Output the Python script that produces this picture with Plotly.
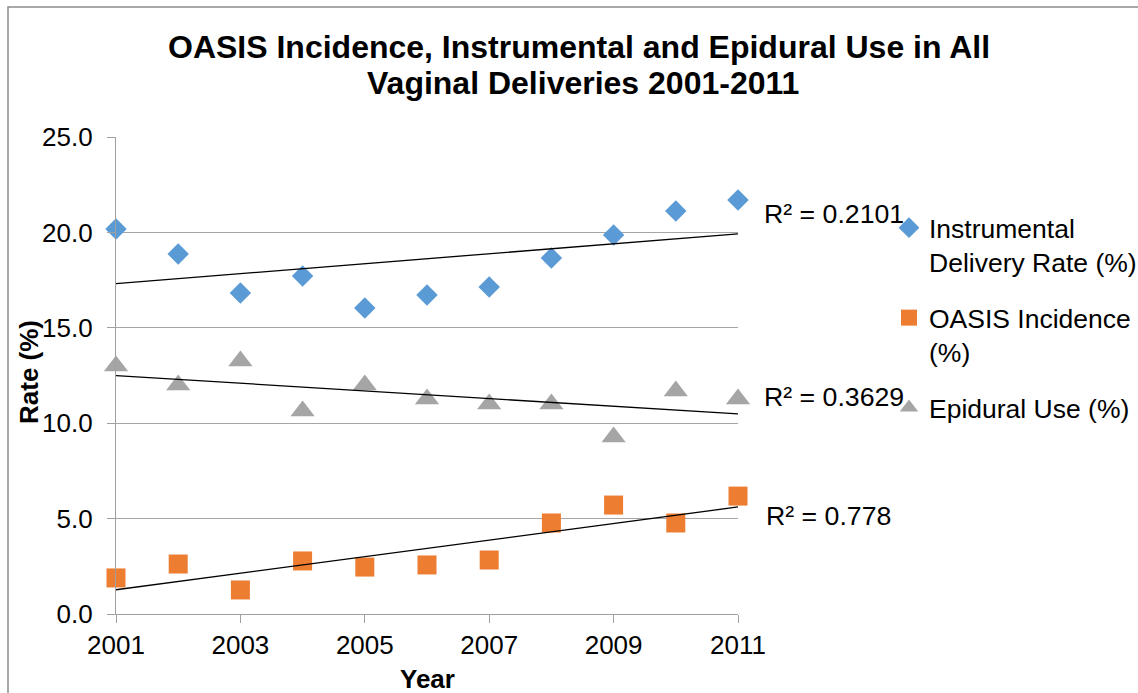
import numpy as np
import plotly.graph_objects as go

years = [2001, 2002, 2003, 2004, 2005, 2006, 2007, 2008, 2009, 2010, 2011]
instrumental = [20.18, 18.87, 16.82, 17.71, 16.04, 16.72, 17.14, 18.66, 19.86, 21.12, 21.70]
oasis = [1.89, 2.62, 1.26, 2.78, 2.46, 2.57, 2.83, 4.77, 5.71, 4.77, 6.18]
epidural = [13.00, 12.00, 13.26, 10.64, 12.00, 11.27, 11.00, 11.00, 9.28, 11.69, 11.27]
r2_labels = ["R² = 0.2101", "R² = 0.3629", "R² = 0.778"]
y_ticks = [0, 5, 10, 15, 20, 25]
x_ticks = [2001, 2003, 2005, 2007, 2009, 2011]

W, H = 1138, 693
L, R, T, B = 116, 738, 137, 614
FONT = "Liberation Sans, Arial, sans-serif"

def px_x(p):
    return (p - L) / (R - L)

def px_y(p):
    return (B - p) / (B - T)

fig = go.Figure()

series = [
    ("Instrumental<br>Delivery Rate (%)", instrumental, "#5B9BD5", "diamond", 16.5),
    ("OASIS Incidence<br>(%)", oasis, "#ED7D31", "square", 19),
    ("Epidural Use (%)", epidural, "#A5A5A5", "triangle-up", 21),
]
for i, (name, vals, col, sym, sz) in enumerate(series):
    fig.add_trace(go.Scatter(
        x=years, y=vals, mode="markers", name=name, legendgroup=f"g{i}",
        marker=dict(symbol=sym, size=sz, color=col, line=dict(width=0)),
        cliponaxis=False,
    ))

# linear trendlines (least squares fit of the data)
xa = np.array(years, dtype=float)
for vals in [instrumental, oasis, epidural]:
    m, c = np.polyfit(xa, np.array(vals), 1)
    xs = [years[0], years[-1]]
    fig.add_trace(go.Scatter(
        x=xs, y=[m * v + c for v in xs], mode="lines", showlegend=False,
        line=dict(color="black", width=1.3), hoverinfo="skip",
    ))

annotations = []
annotations.append(dict(text="<b>OASIS Incidence, Instrumental and Epidural Use in All</b>",
                        xref="paper", yref="paper", x=px_x(579), y=px_y(47),
                        xanchor="center", yanchor="middle", showarrow=False,
                        font=dict(family=FONT, size=32, color="black")))
annotations.append(dict(text="<b>Vaginal Deliveries 2001-2011</b>",
                        xref="paper", yref="paper", x=px_x(583), y=px_y(83),
                        xanchor="center", yanchor="middle", showarrow=False,
                        font=dict(family=FONT, size=32, color="black")))
annotations.append(dict(text="<b>Rate (%)</b>", xref="paper", yref="paper",
                        x=px_x(29), y=px_y(372), textangle=-90,
                        xanchor="center", yanchor="middle", showarrow=False,
                        font=dict(family=FONT, size=26, color="black")))
annotations.append(dict(text="<b>Year</b>", xref="paper", yref="paper",
                        x=px_x(427), y=px_y(679),
                        xanchor="center", yanchor="middle", showarrow=False,
                        font=dict(family=FONT, size=26, color="black")))
for lab, (xp, yp) in zip(r2_labels, [(762, 214), (762, 397), (764, 516)]):
    annotations.append(dict(text=lab, xref="paper", yref="paper",
                            x=px_x(xp), y=px_y(yp), xanchor="left", yanchor="middle",
                            showarrow=False, font=dict(family=FONT, size=26.7, color="black")))

fig.update_layout(
    width=W, height=H,
    margin=dict(l=L, r=W - R, t=T, b=H - B, autoexpand=False),
    paper_bgcolor="white", plot_bgcolor="white",
    font=dict(family=FONT, size=26, color="black"),
    showlegend=True,
    legend=dict(x=px_x(889), y=px_y(204), xanchor="left", yanchor="top",
                font=dict(family=FONT, size=26.5, color="black"),
                valign="top", tracegroupgap=18, bgcolor="rgba(0,0,0,0)"),
    annotations=annotations,
    shapes=[dict(type="rect", xref="paper", yref="paper",
                 x0=px_x(8), x1=px_x(1150), y0=px_y(7), y1=px_y(705),
                 line=dict(color="#8C8C8C", width=1.5), layer="below")],
)
fig.update_xaxes(range=[2001, 2011], tickvals=x_ticks, ticktext=[str(v) for v in x_ticks],
                 showgrid=False, zeroline=False, showline=True, linecolor="#A0A0A0",
                 linewidth=1.3, ticks="outside", ticklen=8, tickcolor="#A0A0A0",
                 tickfont=dict(family=FONT, size=26, color="black"))
fig.update_yaxes(range=[0, 25], tickvals=y_ticks, ticktext=[f"{v:.1f}" for v in y_ticks],
                 showgrid=True, gridcolor="#A6A6A6", gridwidth=1.3, zeroline=False,
                 showline=True, linecolor="#A0A0A0", linewidth=1.3,
                 ticks="outside", ticklen=8, tickcolor="#A0A0A0", ticklabelstandoff=9,
                 tickfont=dict(family=FONT, size=26, color="black"))

fig.write_html("out.html", config={"displayModeBar": False},
               post_script="document.body.style.margin='0';")
